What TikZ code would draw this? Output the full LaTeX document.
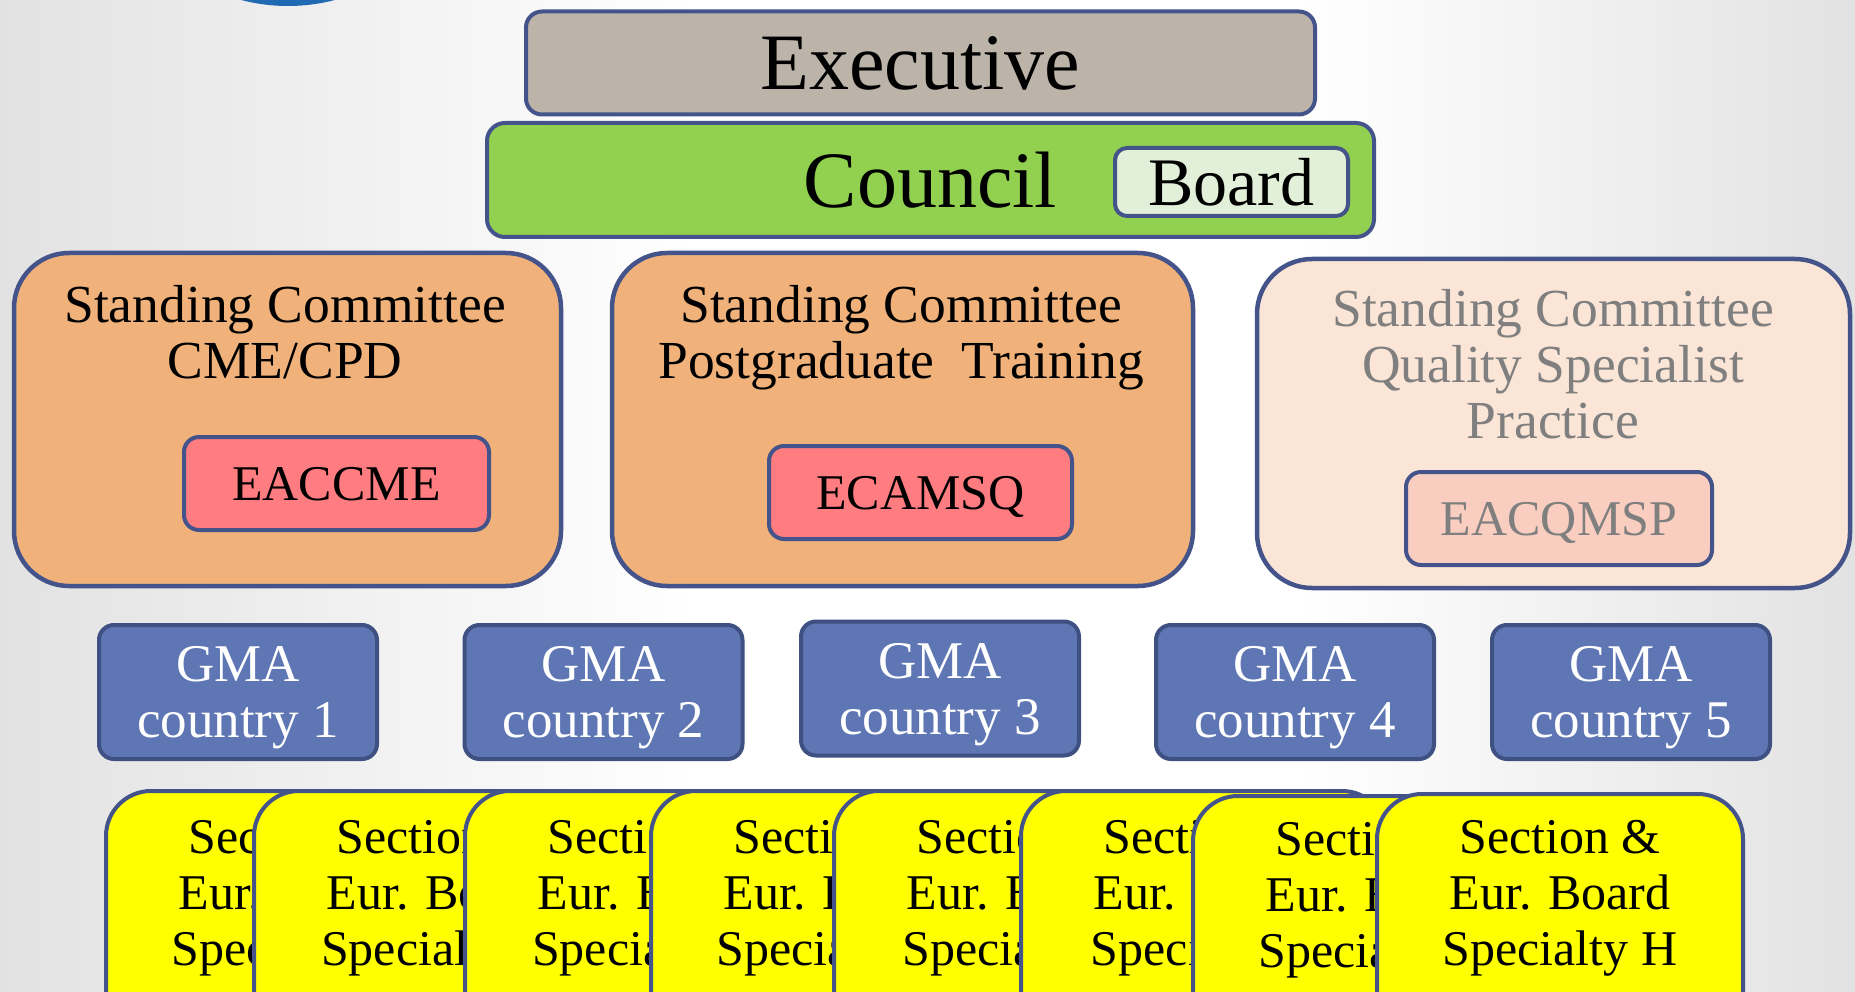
\documentclass[tikz,border=0pt]{standalone}
\usepackage{fontspec}
\setmainfont{Liberation Serif}
\definecolor{bordc}{RGB}{68,84,138}
\definecolor{execc}{RGB}{188,180,168}
\definecolor{councilc}{RGB}{146,208,80}
\definecolor{boardc}{RGB}{226,240,217}
\definecolor{orangec}{RGB}{240,178,122}
\definecolor{paleorc}{RGB}{251,229,214}
\definecolor{redc}{RGB}{255,124,128}
\definecolor{palered}{RGB}{249,206,192}
\definecolor{grayt}{RGB}{127,127,127}
\definecolor{gmac}{RGB}{94,118,180}
\definecolor{gmabord}{RGB}{63,81,130}
\definecolor{yelc}{RGB}{255,255,0}
\definecolor{bgg}{RGB}{226,226,226}
\definecolor{arcc}{RGB}{31,106,178}
\newcommand\bigfnt{\fontsize{80}{86}\selectfont}
\newcommand\boardfnt{\fontsize{68}{72}\selectfont}
\newcommand\orfnt{\fontsize{53.5}{56}\selectfont}
\newcommand\gmafnt{\fontsize{53}{56}\selectfont}
\newcommand\secfnt{\fontsize{50}{56}\selectfont}
\tikzset{
  box/.style={draw=bordc, line width=4pt, rounded corners=15pt, inner sep=0pt},
  orbox/.style={box, rounded corners=55pt, line width=4.5pt},
  redbox/.style={box, fill=redc, minimum width=305pt, minimum height=93pt, font=\secfnt, text depth=0pt},
  gmabox/.style={box, draw=gmabord, fill=gmac, minimum width=278pt, minimum height=134pt},
  gmatext/.style={font=\gmafnt, text=white, align=center, inner sep=0pt},
  secbox/.style={box, fill=yelc, minimum width=366pt, minimum height=260pt, rounded corners=45pt},
  sectext/.style={font=\secfnt, align=center, inner sep=0pt},
  ortext/.style={font=\orfnt, align=center, inner sep=0pt, anchor=north}
}
\begin{document}
\begin{tikzpicture}[x=1pt,y=-1pt]
\clip (0,0) rectangle (1855,992);
% background
\shade[left color=bgg, right color=white] (0,0) rectangle (700,992);
\fill[white] (700,0) rectangle (1300,992);
\shade[left color=white, right color=bgg] (1300,0) rectangle (1855,992);
\fill[arcc] (288,-178) circle (184pt);
% top
\node[box, fill=execc, minimum width=789pt, minimum height=103pt, rounded corners=16pt, font=\bigfnt] (exec) at (920.5,63) {Executive};
\node[box, fill=councilc, minimum width=887pt, minimum height=114pt, rounded corners=18pt, font=\bigfnt] (council) at (930.5,180) {Council};
\node[box, fill=boardc, minimum width=233pt, minimum height=68pt, rounded corners=12pt, font=\boardfnt] (board) at (1231.5,182) {Board};
% standing committees
\node[orbox, fill=orangec, minimum width=547pt, minimum height=333pt] (sc1) at (287.5,419.5) {};
\node[ortext] (sc1t) at (285,285) {Standing Committee\\CME/CPD};
\node[redbox] (eaccme) at (336.5,483.5) {EACCME};
\node[orbox, fill=orangec, minimum width=581pt, minimum height=333pt] (sc2) at (902.5,419.5) {};
\node[ortext] (sc2t) at (901,285) {Standing Committee\\Postgraduate\ \ Training};
\node[redbox, minimum width=303pt] (ecamsq) at (920.5,492.5) {ECAMSQ};
\node[orbox, fill=paleorc, minimum width=593pt, minimum height=329pt] (sc3) at (1553.5,423.5) {};
\node[ortext, text=grayt] (sc3t) at (1553,289) {Standing Committee\\Quality Specialist\\Practice};
\node[redbox, fill=palered, text=grayt, minimum width=306pt] (eacqmsp) at (1559,518.5) {EACQMSP};
% GMA
\node[gmabox] (gma1) at (238,692) {};
\node[gmatext] (gma1t) at (238,698) {GMA\\country 1};
\node[gmabox] (gma2) at (603.5,692) {};
\node[gmatext] (gma2t) at (603.5,698) {GMA\\country 2};
\node[gmabox] (gma3) at (940,688.5) {};
\node[gmatext] (gma3t) at (940,694.5) {GMA\\country 3};
\node[gmabox] (gma4) at (1295,692) {};
\node[gmatext] (gma4t) at (1295,698) {GMA\\country 4};
\node[gmabox] (gma5) at (1631,692) {};
\node[gmatext] (gma5t) at (1631,698) {GMA\\country 5};
% sections
\node[secbox] (sec1) at (289,921) {};
\node[sectext] (sec1t) at (289,898) {Section \&\\Eur. Board\\Specialty A};
\node[secbox] (sec2) at (437,921) {};
\node[sectext] (sec2t) at (437,898) {Section \&\\Eur. Board\\Specialty B};
\node[secbox] (sec3) at (648,921) {};
\node[sectext] (sec3t) at (648,898) {Section \&\\Eur. Board\\Specialty C};
\node[secbox] (sec4) at (834,921) {};
\node[sectext] (sec4t) at (834,898) {Section \&\\Eur. Board\\Specialty D};
\node[secbox] (sec5) at (1017,921) {};
\node[sectext] (sec5t) at (1017,898) {Section \&\\Eur. Board\\Specialty E};
\node[secbox] (sec6) at (1204,921) {};
\node[sectext] (sec6t) at (1204,898) {Section \&\\Eur. Board\\Specialty F};
\node[secbox] (sec7) at (1376,926) {};
\node[sectext] (sec7t) at (1376,900) {Section \&\\Eur. Board\\Specialty G};
\node[secbox] (sec8) at (1560,924) {};
\node[sectext] (sec8t) at (1560,898) {Section \&\\Eur. Board\\Specialty H};
\end{tikzpicture}
\end{document}
